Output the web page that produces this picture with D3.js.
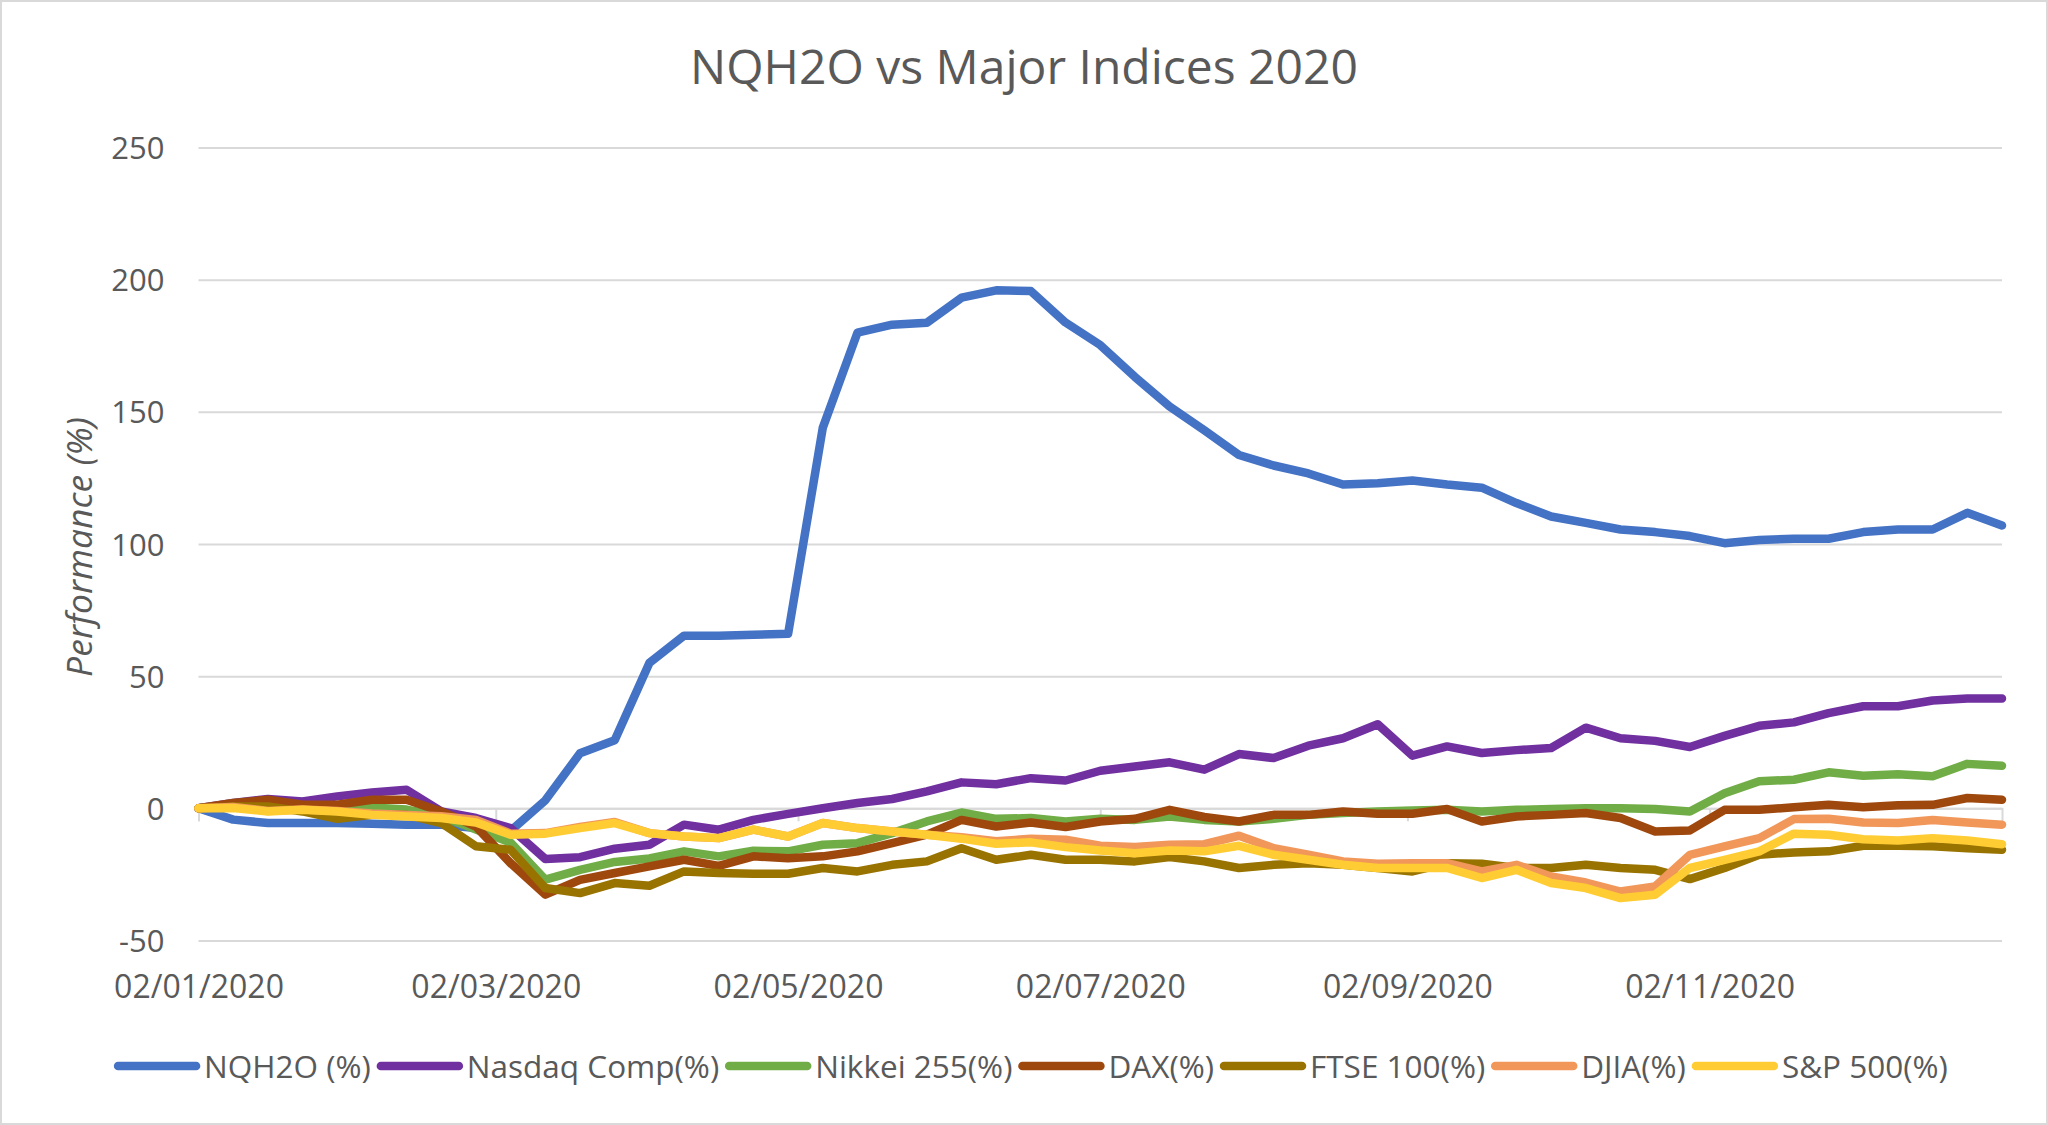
<!DOCTYPE html>
<html>
<head>
<meta charset="utf-8">
<script src="https://cdn.jsdelivr.net/npm/d3@7"></script>
<style>
  html, body { margin: 0; padding: 0; background: #ffffff; }
  svg { display: block; }
  text { font-family: "Open Sans", "Noto Sans", sans-serif; fill: #595959; }
</style>
</head>
<body>
<svg id="chart" width="2048" height="1125"></svg>
<script>
// ---------- DATA ----------
const dates = [
  "2020-01-02","2020-01-09","2020-01-16","2020-01-23","2020-01-30",
  "2020-02-06","2020-02-13","2020-02-20","2020-02-27",
  "2020-03-05","2020-03-12","2020-03-19","2020-03-26",
  "2020-04-02","2020-04-09","2020-04-16","2020-04-23","2020-04-30",
  "2020-05-07","2020-05-14","2020-05-21","2020-05-28",
  "2020-06-04","2020-06-11","2020-06-18","2020-06-25",
  "2020-07-02","2020-07-09","2020-07-16","2020-07-23","2020-07-30",
  "2020-08-06","2020-08-13","2020-08-20","2020-08-27",
  "2020-09-03","2020-09-10","2020-09-17","2020-09-24",
  "2020-10-01","2020-10-08","2020-10-15","2020-10-22","2020-10-29",
  "2020-11-05","2020-11-12","2020-11-19","2020-11-26",
  "2020-12-03","2020-12-10","2020-12-17","2020-12-24","2020-12-31"
];

const seriesNames = ["NQH2O (%)", "Nasdaq Comp(%)", "Nikkei 255(%)", "DAX(%)", "FTSE 100(%)", "DJIA(%)", "S&P 500(%)"];
const seriesColors = ["#4472C4", "#7030A0", "#70AD47", "#9E480E", "#997300", "#F1975A", "#FFCD33"];

const nqh2o = [0, -4.3, -5.6, -5.6, -5.6, -5.9, -6.2, -6.2, -7.5, -8.5, 3, 20.8, 25.7, 55, 65.3, 65.3, 65.7, 66,
  144, 180, 183, 183.7, 193.2, 196, 195.7, 183.8, 175.3, 163.2, 152, 143, 133.7, 129.7, 126.7, 122.5, 123, 124,
  122.5, 121.3, 115.5, 110.4, 108, 105.5, 104.5, 103, 100.3, 101.5, 102, 102, 104.5, 105.5, 105.5, 111.8, 107];
const nasdaq = [0, 2, 3.5, 2.6, 4.5, 6, 7, -1.2, -3.7, -7.5, -19.2, -18.5, -15.3, -13.8, -6.2, -8.1, -4.4, -2.1,
  0, 2, 3.5, 6.4, 9.8, 9.1, 11.4, 10.5, 14.2, 15.8, 17.4, 14.6, 20.5, 19, 23.7, 26.5, 31.8, 19.9,
  23.4, 20.9, 22, 22.8, 30.5, 26.5, 25.5, 23.2, 27.4, 31.2, 32.5, 36, 38.6, 38.6, 40.8, 41.5, 41.5];
const nikkei = [0, 1.5, 1, 0.5, -0.5, 0.3, -0.5, -3, -8, -13, -27, -23.3, -20.3, -19, -16.3, -18.2, -16.1, -16.3,
  -13.8, -13.2, -9.4, -5, -1.6, -4, -3.7, -5, -4, -4.4, -3.1, -4.4, -5, -4, -2.5, -1.8, -1.2, -0.8,
  -0.6, -1.2, -0.6, -0.3, 0, 0, -0.3, -1.2, 5.7, 10.2, 10.8, 13.6, 12.3, 12.9, 12.1, 16.8, 16.1];
const dax = [0, 2, 3.2, 1.3, 1.3, 3.2, 3.2, -1.2, -6.9, -20.8, -32.7, -27.1, -24.5, -22, -19.5, -21.8, -18.2, -18.9,
  -18.2, -16.3, -13.2, -10, -4.4, -6.9, -5.4, -7.1, -5, -4, -0.6, -3.3, -5, -2.5, -2.5, -1.2, -2.1, -2.1,
  -0.3, -5, -3.1, -2.5, -1.8, -3.7, -8.8, -8.4, -0.6, -0.6, 0.4, 1.3, 0.4, 1.1, 1.3, 3.9, 3.2];
const ftse = [0, 0.7, 0.7, -1.2, -4, -2.5, -2.5, -5.6, -14.4, -15.7, -30.2, -32.1, -28.3, -29.3, -23.9, -24.5, -24.8, -24.8,
  -22.6, -23.9, -21.4, -20.1, -15.1, -19.5, -17.6, -19.5, -19.5, -20.1, -18.5, -20.1, -22.6, -21.4, -20.8, -21.4, -22.6, -23.9,
  -20.8, -21, -22.6, -22.6, -21.4, -22.6, -23.3, -26.8, -22.6, -17.6, -16.7, -16.3, -14.2, -14.2, -14.4, -15.1, -15.7];
const djia = [0, 0.5, -1, -0.5, -1, -2, -2.5, -3, -4.4, -9.6, -9.4, -7.1, -5.2, -9.4, -10.7, -11.3, -8.1, -10.7,
  -5.6, -7.5, -8.8, -10, -11, -12.5, -11.5, -11.9, -14.2, -14.7, -13.8, -13.6, -10.4, -15.1, -17.6, -20.1, -21, -20.8,
  -20.8, -23.9, -21.4, -25.8, -28.1, -31.5, -29.6, -17.6, -14.4, -11.3, -4.1, -4, -5.4, -5.6, -4.4, -5.4, -6.2];
const sp500 = [0, 0.1, -1.2, -0.6, -1.2, -2.5, -3.1, -3.7, -5.4, -10, -9.6, -7.5, -5.6, -9.4, -10.7, -11.3, -8.1, -10.7,
  -5.6, -7.5, -8.8, -10, -11.5, -13.4, -12.9, -14.7, -16, -17, -16, -16.3, -14.2, -17.6, -19.5, -21.4, -22.6, -22.6,
  -22.6, -26.4, -23.3, -28.3, -30.2, -34, -32.7, -22.6, -19.5, -16.3, -9.6, -10, -11.7, -12.2, -11.3, -12.2, -13.6];

const seriesValues = [nqh2o, nasdaq, nikkei, dax, ftse, djia, sp500];

const xTickDates = ["2020-01-02", "2020-03-02", "2020-05-02", "2020-07-02", "2020-09-02", "2020-11-02"];
const xTickLabels = ["02/01/2020", "02/03/2020", "02/05/2020", "02/07/2020", "02/09/2020", "02/11/2020"];
const yTicks = [-50, 0, 50, 100, 150, 200, 250];

const titleText = "NQH2O vs Major Indices 2020";
const yAxisTitle = "Performance (%)";

// ---------- DRAW ----------
const W = 2048, H = 1125;
const plot = { left: 198.5, right: 2002, top: 147.6, bottom: 940.4 };
const parse = d3.timeParse("%Y-%m-%d");
const parsedDates = dates.map(parse);

const svg = d3.select("#chart");
svg.append("rect").attr("x", 1).attr("y", 1).attr("width", W - 2).attr("height", H - 2)
  .attr("fill", "#ffffff").attr("stroke", "#d9d9d9").attr("stroke-width", 2);

const x = d3.scaleTime()
  .domain([parse("2020-01-02"), parse("2020-12-31")])
  .range([plot.left, plot.right]);
const y = d3.scaleLinear().domain([-50, 250]).range([plot.bottom, plot.top]);

// gridlines + y labels
const yAxis = d3.axisLeft(y).tickValues(yTicks).tickSize(-(plot.right - plot.left)).tickPadding(34)
  .tickFormat(d => String(d));
const gy = svg.append("g").attr("transform", `translate(${plot.left},0)`).call(yAxis);
gy.select(".domain").remove();
gy.selectAll(".tick line").attr("stroke", "#d9d9d9").attr("stroke-width", 2);
gy.selectAll(".tick text")
  .attr("font-family", "'Open Sans', sans-serif")
  .attr("font-size", 31).attr("fill", "#595959")
  .attr("dy", null)
  .attr("y", 11);

// horizontal axis at 0 with ticks downward
const xAxis = d3.axisBottom(x).tickValues(xTickDates.map(parse)).tickSize(13)
  .tickFormat((d, i) => xTickLabels[i]);
const gx = svg.append("g").attr("transform", `translate(0,${y(0)})`).call(xAxis);
gx.select(".domain").attr("stroke", "#d9d9d9").attr("stroke-width", 2);
gx.selectAll(".tick line").attr("stroke", "#d9d9d9").attr("stroke-width", 2);
gx.selectAll(".tick text")
  .attr("font-family", "'Open Sans', sans-serif")
  .attr("font-size", 32).attr("fill", "#595959")
  .attr("dy", null)
  .attr("y", 998 - y(0));

// lines
const line = d3.line()
  .x((d, i) => x(parsedDates[i]))
  .y(d => y(d));

svg.append("g").selectAll("path")
  .data(seriesValues)
  .join("path")
  .attr("d", d => line(d))
  .attr("fill", "none")
  .attr("stroke", (d, i) => seriesColors[i])
  .attr("stroke-width", 8.5)
  .attr("stroke-linejoin", "round")
  .attr("stroke-linecap", "round");

// title
svg.append("text").attr("x", 1024).attr("y", 83.5)
  .attr("text-anchor", "middle").attr("font-size", 48).attr("fill", "#595959")
  .text(titleText);

// y axis title
svg.append("text").attr("transform", "translate(92,547) rotate(-90)")
  .attr("text-anchor", "middle").attr("font-size", 35.5).attr("font-style", "italic")
  .attr("fill", "#595959")
  .text(yAxisTitle);

// legend
const lg = svg.append("g");
const swatch = 78, gapA = 8, gapB = 10;
const items = seriesNames.map((name, i) => {
  const g = lg.append("g");
  g.append("line").attr("x1", 0).attr("x2", swatch).attr("y1", 0).attr("y2", 0)
    .attr("stroke", seriesColors[i]).attr("stroke-width", 8.5).attr("stroke-linecap", "round");
  const t = g.append("text").attr("x", swatch + gapA).attr("y", 11.5)
    .attr("font-size", 31.5).attr("fill", "#595959").text(name);
  return { g, w: swatch + gapA + t.node().getComputedTextLength() };
});
const total = d3.sum(items, d => d.w) + gapB * (items.length - 1);
let cx = 1033 - total / 2;
items.forEach(it => {
  it.g.attr("transform", `translate(${cx},1066)`);
  cx += it.w + gapB;
});
</script>
</body>
</html>
